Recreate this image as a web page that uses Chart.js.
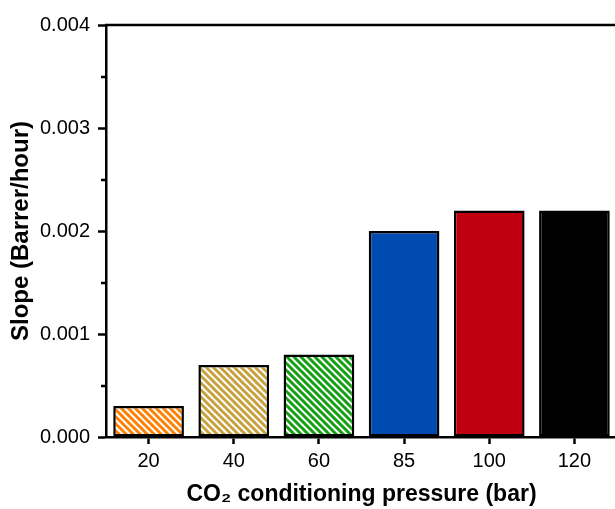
<!DOCTYPE html>
<html>
<head>
<meta charset="utf-8">
<title>Slope vs CO2 conditioning pressure</title>
<script src="https://cdn.jsdelivr.net/npm/chart.js@4.4.1/dist/chart.umd.min.js"></script>
<style>
    html, body { margin: 0; padding: 0; background: #fff; overflow: hidden; }
    #wrap { width: 615px; height: 509px; overflow: hidden; }
    canvas { display: block; }
</style>
</head>
<body>
<div id="wrap"><canvas id="chart" width="620" height="509"></canvas></div>
<script>
// Chart data
const pressures = ['20', '40', '60', '85', '100', '120'];
const slopes = [0.0003, 0.0007, 0.0008, 0.0020, 0.0022, 0.0022];
const barColors = ['#ff8000', '#c8a03c', '#10a010', '#004bb0', '#c00010', '#000000'];
const hatched = [true, true, true, false, false, false];
const yMin = 0;
const yMax = 0.004;
const yStep = 0.001;
const yMinorTicks = [0.0005, 0.0015, 0.0025, 0.0035];

const FONT = '"Liberation Sans", Arial, Helvetica, sans-serif';

/**
 * Build a "\\\" hatch pattern in the given colour
 */
function makeHatch(color) {
    const size = 7;
    const tile = document.createElement('canvas');
    tile.width = size;
    tile.height = size;
    const c = tile.getContext('2d');
    c.fillStyle = '#ffffff';
    c.fillRect(0, 0, size, size);
    c.strokeStyle = color;
    c.lineWidth = 3;
    for (let k = -1; k <= 1; k++) {
        c.beginPath();
        c.moveTo(k * size - 1, -1);
        c.lineTo(k * size + size + 1, size + 1);
        c.stroke();
    }
    return c.createPattern(tile, 'repeat');
}

const ctx = document.getElementById('chart').getContext('2d');
const fills = barColors.map((col, i) => hatched[i] ? makeHatch(col) : col);

/**
 * Top/right frame lines and minor y ticks
 */
const framePlugin = {
    id: 'frame',
    afterDraw(chart) {
        const { ctx, chartArea } = chart;
        const y = chart.scales.y;
        ctx.save();
        ctx.strokeStyle = '#000';
        ctx.lineWidth = 2.5;
        ctx.beginPath();
        ctx.moveTo(chartArea.left - 1, chartArea.top);
        ctx.lineTo(chartArea.right + 1, chartArea.top);
        ctx.moveTo(chartArea.right, chartArea.top);
        ctx.lineTo(chartArea.right, chartArea.bottom);
        yMinorTicks.forEach(v => {
            const py = Math.round(y.getPixelForValue(v));
            ctx.moveTo(chartArea.left - 5, py);
            ctx.lineTo(chartArea.left, py);
        });
        ctx.stroke();
        ctx.restore();
    }
};

const chart = new Chart(ctx, {
    type: 'bar',
    data: {
        labels: pressures,
        datasets: [{
            data: slopes,
            backgroundColor: fills,
            borderColor: '#000',
            borderWidth: 2.5,
            borderSkipped: false,
            barPercentage: 0.83,
            categoryPercentage: 1
        }]
    },
    options: {
        responsive: false,
        animation: false,
        devicePixelRatio: 1,
        layout: { padding: { left: 0, top: 25, right: 3, bottom: 0 } },
        plugins: {
            legend: { display: false },
            tooltip: { enabled: false }
        },
        scales: {
            x: {
                grid: {
                    offset: false,
                    drawOnChartArea: false,
                    tickLength: 7,
                    tickWidth: 2.5,
                    tickColor: '#000'
                },
                border: { color: '#000', width: 2.5 },
                ticks: {
                    color: '#000',
                    padding: 5,
                    font: { family: FONT, size: 20 }
                },
                title: {
                    display: true,
                    text: 'CO\u2082 conditioning pressure (bar)',
                    color: '#000',
                    font: { family: FONT, size: 23, weight: 'bold' },
                    padding: { top: 0, bottom: 1 }
                },
                afterFit(scale) { scale.height = 72; }
            },
            y: {
                min: yMin,
                max: yMax,
                grid: {
                    drawOnChartArea: false,
                    tickLength: 8,
                    tickWidth: 2.5,
                    tickColor: '#000'
                },
                border: { color: '#000', width: 2.5 },
                ticks: {
                    stepSize: yStep,
                    color: '#000',
                    padding: 8,
                    font: { family: FONT, size: 20 },
                    callback: v => Number(v).toFixed(3)
                },
                title: {
                    display: true,
                    text: 'Slope (Barrer/hour)',
                    color: '#000',
                    font: { family: FONT, size: 24, weight: 'bold' },
                    padding: { top: 7, bottom: 0 }
                },
                afterFit(scale) { scale.width = 106; }
            }
        }
    },
    plugins: [framePlugin]
});
</script>
</body>
</html>
